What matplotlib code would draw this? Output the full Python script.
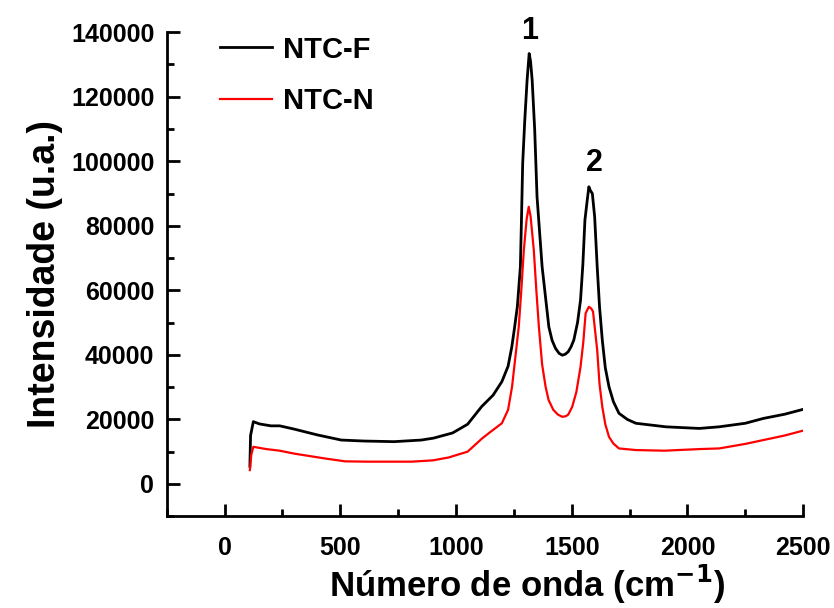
import matplotlib.pyplot as plt
from matplotlib.ticker import MultipleLocator

plt.rcParams['font.family'] = ['Liberation Sans', 'DejaVu Sans']
plt.rcParams['font.weight'] = 'bold'
plt.rcParams['mathtext.default'] = 'bf'

# Raman spectra, values
ntc_f_x = [109, 112, 124, 150, 200, 238, 300, 400, 504, 600, 732, 850, 903,
           985, 1050, 1111, 1160, 1198, 1225, 1241, 1252, 1265, 1278, 1283,
           1288, 1297, 1307, 1316, 1322, 1329, 1340, 1350, 1372, 1401, 1415,
           1430, 1445, 1459, 1472, 1485, 1497, 1509, 1525, 1538, 1548, 1557,
           1567, 1574, 1580, 1589, 1599, 1610, 1620, 1632, 1645, 1661, 1680,
           1704, 1740, 1777, 1907, 2051, 2137, 2250, 2328, 2420, 2499]
ntc_f_y = [5500, 15000, 19300, 18600, 18000, 18000, 17000, 15200, 13600, 13300,
           13100, 13600, 14200, 15800, 18500, 24000, 27500, 31700, 36500,
           42500, 48000, 55000, 67300, 82800, 99400, 112700, 125100, 133400,
           131000, 125100, 109600, 89000, 67300, 48700, 44500, 42000, 40500,
           39900, 40200, 41000, 42500, 44600, 50000, 57000, 68000, 81800,
           88000, 92100, 91000, 90000, 82800, 67300, 55000, 44600, 36000,
           30100, 25500, 21900, 20000, 18800, 17700, 17200, 17700, 18800,
           20300, 21600, 23100]

ntc_n_x = [109, 115, 124, 180, 238, 300, 428, 520, 617, 807, 900, 968, 1050,
           1111, 1150, 1198, 1225, 1242, 1271, 1282, 1293, 1305, 1314, 1322,
           1336, 1347, 1358, 1372, 1387, 1400, 1420, 1440, 1459, 1475, 1485,
           1502, 1520, 1538, 1550, 1560, 1574, 1585, 1592, 1610, 1620, 1632,
           1645, 1661, 1680, 1704, 1777, 1900, 2051, 2137, 2250, 2328, 2420,
           2499]
ntc_n_y = [4300, 9000, 11500, 10800, 10300, 9400, 7950, 7000, 6900, 6900, 7300,
           8200, 10000, 14000, 16200, 18800, 23000, 30100, 48700, 60000, 72500,
           82000, 85900, 83000, 72500, 60000, 48700, 37000, 30100, 26000, 23000,
           21500, 20800, 21000, 21500, 23900, 28500, 36300, 44000, 52900, 54900,
           54300, 53400, 41500, 31000, 23900, 18500, 14600, 12500, 11000, 10500,
           10300, 10800, 11000, 12400, 13600, 15000, 16500]

peak_labels = ['1', '2']
peak_pos = [(1316, 135700), (1598, 94800)]


fig = plt.figure(figsize=(8.34, 6.08), dpi=100)
ax = fig.add_axes([0.2, 0.151, 0.763, 0.796])

ax.plot(ntc_f_x, ntc_f_y, color='black', lw=2, label='NTC-F')
ax.plot(ntc_n_x, ntc_n_y, color='red', lw=1.6, label='NTC-N')

for txt, (px, py) in zip(peak_labels, peak_pos):
    ax.text(px, py, txt, ha='center', va='bottom', fontsize=22,
            fontweight='bold')

ax.set_xlim(-250, 2500)
ax.set_ylim(-10000, 140000)
ax.xaxis.set_major_locator(MultipleLocator(500))
ax.xaxis.set_minor_locator(MultipleLocator(250))
ax.yaxis.set_major_locator(MultipleLocator(20000))
ax.yaxis.set_minor_locator(MultipleLocator(10000))

for side in ['top', 'right']:
    ax.spines[side].set_visible(False)
for side in ['left', 'bottom']:
    ax.spines[side].set_linewidth(2)

ax.tick_params(which='major', direction='in', length=9, width=2,
               labelsize=18)
ax.tick_params(which='minor', direction='in', length=5, width=2)
ax.tick_params(axis='x', which='major', pad=14)
ax.tick_params(axis='y', which='major', pad=9)
for lab in ax.get_xticklabels() + ax.get_yticklabels():
    lab.set_fontweight('bold')

ax.set_xlabel('Número de onda (cm$^{-1}$)', fontsize=25,
              fontweight='bold')
ax.xaxis.label.set_va('baseline')
ax.xaxis.set_label_coords(0.566, -0.167)
ax.set_ylabel('Intensidade (u.a.)', fontsize=27, fontweight='bold',
              labelpad=6)

leg = ax.legend(loc='upper left', bbox_to_anchor=(0.065, 1.017),
                frameon=False, fontsize=21, handlelength=1.8,
                handletextpad=0.35, labelspacing=0.8, borderaxespad=0)
for t in leg.get_texts():
    t.set_fontweight('bold')

fig.savefig('out.png', dpi=100)
